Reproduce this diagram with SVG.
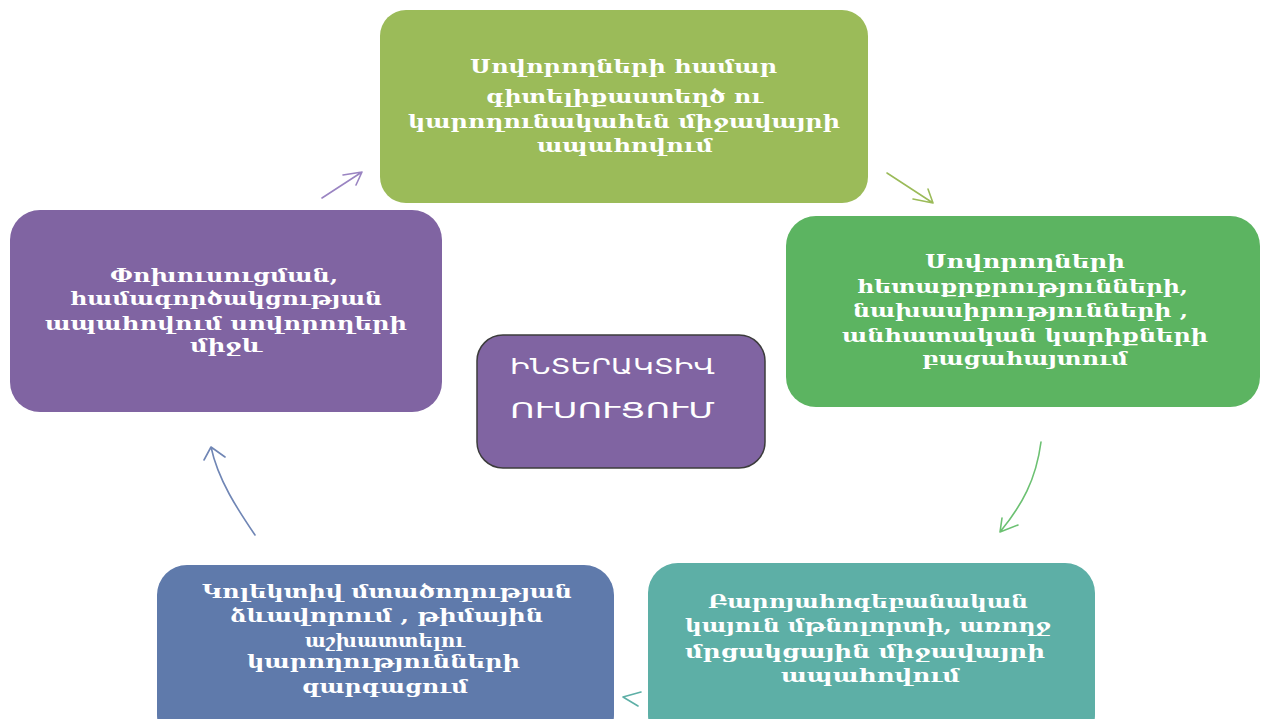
<svg xmlns="http://www.w3.org/2000/svg" width="1261" height="719" viewBox="0 0 1261 719">
<style>
.t{font-family:"DejaVu Serif","Noto Sans",serif;font-weight:bold;font-size:19px;fill:#ffffff;}
.c{font-family:"DejaVu Sans","Noto Sans",sans-serif;font-size:22px;fill:#ffffff;}
.a{fill:none;stroke-width:1.6;stroke-linecap:round;stroke-linejoin:round;}
</style>
<rect width="1261" height="719" fill="#ffffff"/>
<g id="connectors">
<path class="a" stroke="#9a84c2" d="M322,198 L362,172 M343,175 L362,172 L356,185"/>
<path class="a" stroke="#9bbb59" d="M887,173 L933,203 M913,199 L933,203 L928,189"/>
<path class="a" stroke="#6cc172" d="M1041,442 C1036,480 1022,505 1000,532 M1018,525 L1000,532 L1002,518"/>
<path class="a" stroke="#5dafa6" d="M641,692 L623,697 L638,706"/>
<path class="a" stroke="#7086b5" d="M255,535 C238,510 218,480 211,447 M204,460 L211,447 L225,457"/>
</g>
<g id="node-top">
<rect x="380" y="10" width="488" height="193" rx="26" fill="#9bbb59"/>
<text class="t" x="623.5" y="73" text-anchor="middle" textLength="307" lengthAdjust="spacingAndGlyphs">Սովորողների համար</text>
<text class="t" x="624.5" y="103" text-anchor="middle" textLength="277" lengthAdjust="spacingAndGlyphs">գիտելիքաստեղծ  ու</text>
<text class="t" x="624" y="128" text-anchor="middle" textLength="432" lengthAdjust="spacingAndGlyphs">կարողունակահեն միջավայրի</text>
<text class="t" x="625" y="152" text-anchor="middle" textLength="176" lengthAdjust="spacingAndGlyphs">ապահովում</text>
</g>
<g id="node-right">
<rect x="786" y="216" width="474" height="191" rx="30" fill="#5cb461"/>
<text class="t" x="1025" y="268" text-anchor="middle" textLength="200" lengthAdjust="spacingAndGlyphs">Սովորողների</text>
<text class="t" x="1022.5" y="293" text-anchor="middle" textLength="331" lengthAdjust="spacingAndGlyphs">հետաքրքրությունների,</text>
<text class="t" x="1020.5" y="317" text-anchor="middle" textLength="335" lengthAdjust="spacingAndGlyphs">նախասիրությունների ,</text>
<text class="t" x="1025" y="342" text-anchor="middle" textLength="366" lengthAdjust="spacingAndGlyphs">անհատական կարիքների</text>
<text class="t" x="1025" y="365" text-anchor="middle" textLength="206" lengthAdjust="spacingAndGlyphs">բացահայտում</text>
</g>
<g id="node-left">
<rect x="10" y="210" width="432" height="202" rx="30" fill="#8064a2"/>
<text class="t" x="224" y="282" text-anchor="middle" textLength="228" lengthAdjust="spacingAndGlyphs">Փոխուսուցման,</text>
<text class="t" x="226" y="305" text-anchor="middle" textLength="312" lengthAdjust="spacingAndGlyphs">համագործակցության</text>
<text class="t" x="226" y="330" text-anchor="middle" textLength="362" lengthAdjust="spacingAndGlyphs">ապահովում սովորողերի</text>
<text class="t" x="226" y="352" text-anchor="middle" textLength="72" lengthAdjust="spacingAndGlyphs">միջև</text>
</g>
<g id="node-center">
<rect x="477" y="335" width="288" height="133" rx="26" fill="#8064a2" stroke="#3c3c3c" stroke-width="1.5"/>
<text class="c" x="510" y="374" textLength="205" lengthAdjust="spacingAndGlyphs">ԻՆՏԵՐԱԿՏԻՎ</text>
<text class="c" x="510" y="418" textLength="205" lengthAdjust="spacingAndGlyphs">ՈՒՍՈՒՑՈՒՄ</text>
</g>
<g id="node-bottom-left">
<rect x="157" y="565" width="457" height="180" rx="30" fill="#5f7aab"/>
<text class="t" x="387" y="598" text-anchor="middle" textLength="370" lengthAdjust="spacingAndGlyphs">Կոլեկտիվ մտածողության</text>
<text class="t" x="386.5" y="622" text-anchor="middle" textLength="313" lengthAdjust="spacingAndGlyphs">ձևավորում , թիմային</text>
<text class="t" x="385" y="647" text-anchor="middle" textLength="160" lengthAdjust="spacingAndGlyphs">աշխատտելու</text>
<text class="t" x="383.5" y="668" text-anchor="middle" textLength="273" lengthAdjust="spacingAndGlyphs">կարողությունների</text>
<text class="t" x="385" y="693" text-anchor="middle" textLength="166" lengthAdjust="spacingAndGlyphs">զարգացում</text>
</g>
<g id="node-bottom-right">
<rect x="648" y="563" width="447" height="182" rx="30" fill="#5dafa6"/>
<text class="t" x="868" y="608" text-anchor="middle" textLength="320" lengthAdjust="spacingAndGlyphs">Բարոյահոգեբանական</text>
<text class="t" x="868" y="632" text-anchor="middle" textLength="366" lengthAdjust="spacingAndGlyphs">կայուն մթնոլորտի, առողջ</text>
<text class="t" x="865" y="658" text-anchor="middle" textLength="360" lengthAdjust="spacingAndGlyphs">մրցակցային միջավայրի</text>
<text class="t" x="870.5" y="682" text-anchor="middle" textLength="179" lengthAdjust="spacingAndGlyphs">ապահովում</text>
</g>
</svg>
